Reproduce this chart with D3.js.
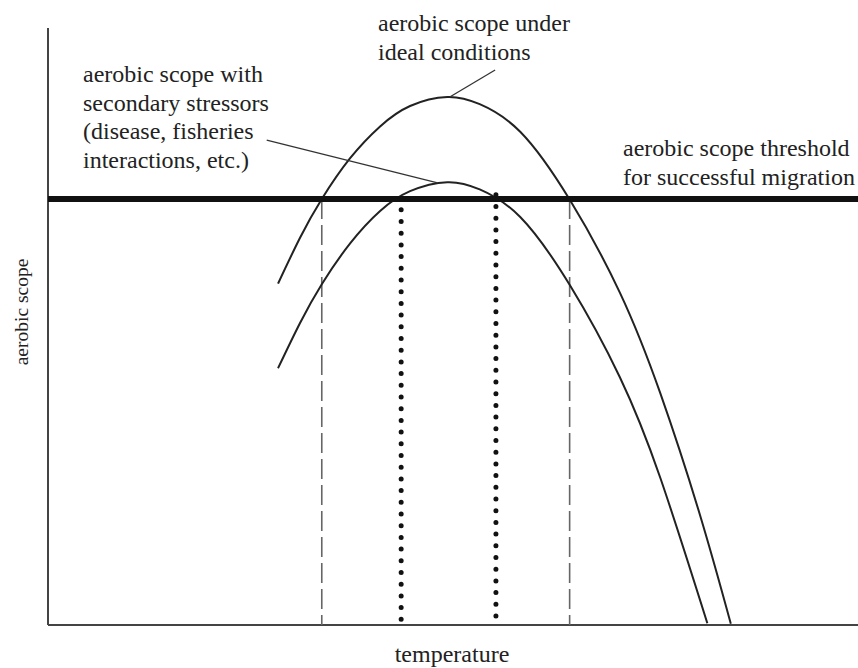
<!DOCTYPE html>
<html>
<head>
<meta charset="utf-8">
<script src="https://cdn.jsdelivr.net/npm/d3@7"></script>
<style>
  body { margin: 0; background: #fff; }
  svg { display: block; }
  text { font-family: "Liberation Serif", "Times New Roman", serif; fill: #222; }
</style>
</head>
<body>
<svg id="chart" width="858" height="668"></svg>
<script>

// curve samples (temperature, aerobic scope), arbitrary 0-100 units
var idealTemp  = [28.4, 31.1, 33.8, 37.3, 41.0, 44.7, 49.3, 53.3, 58.3, 64.4, 70.6, 75.6, 80.5, 84.3];
var idealScope = [56.9, 64.5, 71.0, 77.8, 83.1, 86.5, 88.0, 86.8, 82.2, 70.9, 55.4, 38.6, 18.3, 0.2];

var stressTemp  = [28.4, 31.1, 33.8, 37.3, 41.0, 44.7, 49.3, 53.3, 58.3, 64.4, 70.6, 75.6, 81.4];
var stressScope = [42.8, 50.3, 56.8, 63.6, 69.0, 72.3, 73.8, 72.6, 68.0, 56.7, 41.3, 24.5, 0.3];

var threshold = 71.0;

// dashed = window under ideal conditions, dotted = window with stressors
var idealWindow  = [33.8, 64.4];
var stressWindow = [43.6, 55.3];
var dottedTop    = [69.2, 71.7];
var dottedBottom = [-0.5, 0.2];

var labelsIdeal     = ["aerobic scope under", "ideal conditions"];
var labelsStress    = ["aerobic scope with", "secondary stressors", "(disease, fisheries", "interactions, etc.)"];
var labelsThreshold = ["aerobic scope threshold", "for successful migration"];

// leader lines [from, to] in data units
var leaderIdeal  = [[49.6, 88.0], [55.2, 92.5]];
var leaderStress = [[27.0, 80.8], [48.1, 73.7]];

var svg = d3.select("#chart");

var x = d3.scaleLinear().domain([0, 100]).range([48, 858]);
var y = d3.scaleLinear().domain([0, 100]).range([625, 25]);

var idealData = idealTemp.map(function(t, i) { return [t, idealScope[i]]; });
var stressData = stressTemp.map(function(t, i) { return [t, stressScope[i]]; });

var line = d3.line()
    .x(function(d) { return x(d[0]); })
    .y(function(d) { return y(d[1]); })
    .curve(d3.curveNatural);

var g = svg.append("g");

// axes, just plain lines
g.append("line")
    .attr("x1", x(0)).attr("x2", x(0))
    .attr("y1", y(0)).attr("y2", y(99.5))
    .attr("stroke", "#444").attr("stroke-width", 2);

g.append("line")
    .attr("x1", x(0)).attr("x2", x(100))
    .attr("y1", y(0)).attr("y2", y(0))
    .attr("stroke", "#444").attr("stroke-width", 2);

// dashed temperature window
g.selectAll(".dash")
    .data(idealWindow)
    .enter().append("line")
    .attr("class", "dash")
    .attr("x1", function(d) { return x(d); })
    .attr("x2", function(d) { return x(d); })
    .attr("y1", y(threshold))
    .attr("y2", y(0))
    .attr("stroke", "#666")
    .attr("stroke-width", 1.6)
    .attr("stroke-dasharray", "20 6");

// dotted temperature window
g.selectAll(".dots")
    .data(stressWindow)
    .enter().append("line")
    .attr("class", "dots")
    .attr("x1", function(d) { return x(d); })
    .attr("x2", function(d) { return x(d); })
    .attr("y1", function(d, i) { return y(dottedTop[i]); })
    .attr("y2", function(d, i) { return y(dottedBottom[i]); })
    .attr("stroke", "#111")
    .attr("stroke-width", 5)
    .attr("stroke-linecap", "round")
    .attr("stroke-dasharray", "0 11.7");

// curves
g.append("path")
    .datum(idealData)
    .attr("d", line)
    .attr("fill", "none")
    .attr("stroke", "#222")
    .attr("stroke-width", 2);

g.append("path")
    .datum(stressData)
    .attr("d", line)
    .attr("fill", "none")
    .attr("stroke", "#222")
    .attr("stroke-width", 2);

// threshold
g.append("line")
    .attr("x1", x(0)).attr("x2", x(100))
    .attr("y1", y(threshold)).attr("y2", y(threshold))
    .attr("stroke", "#111")
    .attr("stroke-width", 6);

// leader lines
[leaderIdeal, leaderStress].forEach(function(l) {
    g.append("line")
        .attr("x1", x(l[0][0])).attr("y1", y(l[0][1]))
        .attr("x2", x(l[1][0])).attr("y2", y(l[1][1]))
        .attr("stroke", "#333")
        .attr("stroke-width", 1.3);
});

// text blocks
function addBlock(lines, left, top, step) {
    g.append("g").selectAll("text")
        .data(lines)
        .enter().append("text")
        .attr("x", left)
        .attr("y", function(d, i) { return top + i * step; })
        .attr("font-size", 24)
        .text(function(d) { return d; });
}

addBlock(labelsIdeal, 378, 31, 29);
addBlock(labelsStress, 83, 82, 28.5);
addBlock(labelsThreshold, 623, 156, 29);

// axis titles
g.append("text")
    .attr("x", 452)
    .attr("y", 662)
    .attr("text-anchor", "middle")
    .attr("font-size", 24)
    .text("temperature");

g.append("text")
    .attr("transform", "translate(28,312) rotate(-90)")
    .attr("text-anchor", "middle")
    .attr("font-size", 19.5)
    .text("aerobic scope");

</script>
</body>
</html>
